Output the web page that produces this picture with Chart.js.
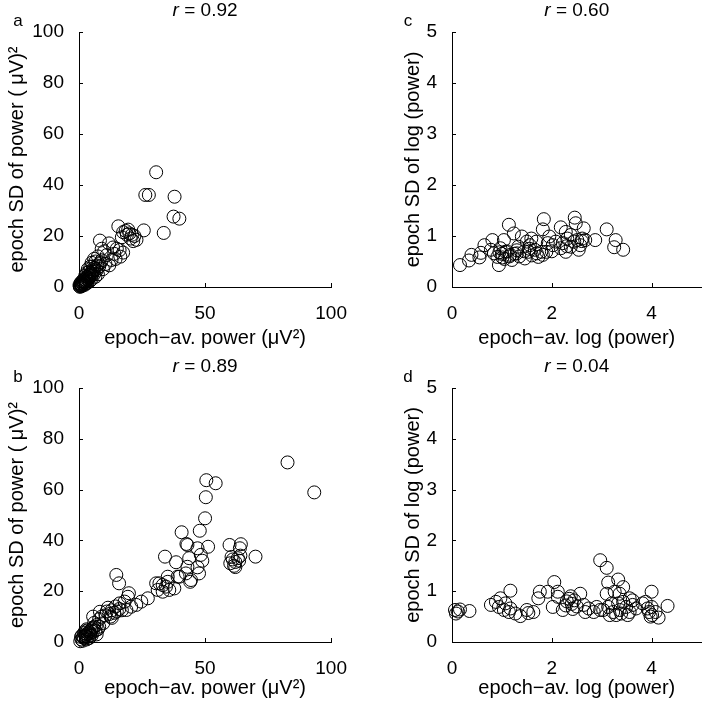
<!DOCTYPE html>
<html>
<head>
<meta charset="utf-8">
<title>Power vs SD scatter</title>
<script src="https://cdn.jsdelivr.net/npm/chart.js@4.4.1/dist/chart.umd.min.js"></script>
<style>
  html, body { margin: 0; padding: 0; background: #fff; overflow: hidden; }
  body { width: 709px; height: 704px; position: relative; }
  canvas { position: absolute; }
</style>
</head>
<body>
<canvas id="chart-a" width="354" height="356" style="left:0;top:0"></canvas>
<canvas id="chart-b" width="354" height="348" style="left:0;top:356px"></canvas>
<canvas id="chart-c" width="355" height="356" style="left:354px;top:0"></canvas>
<canvas id="chart-d" width="355" height="348" style="left:354px;top:356px"></canvas>
<script>
// [epoch-av., epoch SD] per panel
const aPoints = [
  [30.6, 45.0], [26.3, 36.1], [27.7, 36.1], [37.9, 35.4], [37.5, 27.6], [39.8, 26.8], [25.7, 22.2], [33.6, 21.2], [15.6, 23.8],
  [17.5, 21.5], [18.5, 22.0], [19.0, 20.5], [20.0, 21.0], [21.0, 20.5], [22.0, 20.0], [20.5, 19.0], [22.8, 18.5], [17.0, 19.5], [19.5, 22.5], [21.5, 18.0],
  [8.3, 18.2], [11.9, 17.1], [16.1, 14.5], [16.4, 11.9], [12.9, 10.6], [14.0, 13.0], [10.0, 14.0], [9.0, 15.0], [11.0, 12.5], [13.5, 15.5],
  [7.5, 12.0], [9.0, 10.5], [10.5, 9.0], [12.0, 8.5], [8.0, 8.0], [6.5, 10.0], [7.0, 6.5], [5.5, 8.0], [6.0, 11.0], [9.5, 7.0],
  [14.5, 11.0], [17.5, 13.5], [15.0, 15.0],
  [0.5, 0.5], [1.0, 1.0], [1.5, 1.2], [2.0, 1.8], [2.5, 2.0], [3.0, 2.5], [1.0, 0.3], [0.3, 0.2], [2.0, 3.0], [3.0, 4.0],
  [3.5, 3.0], [4.0, 3.5], [4.5, 5.0], [5.0, 4.5], [4.0, 6.0], [3.0, 5.5], [5.5, 6.0], [6.0, 5.0], [2.5, 4.5], [1.5, 2.5],
  [0.8, 1.8], [4.2, 2.2], [5.0, 3.0], [6.5, 4.0], [6.0, 7.5], [3.5, 7.0], [4.5, 8.0], [2.2, 0.8], [1.2, 0.6], [3.2, 1.5],
  [7.5, 5.0], [5.0, 9.5], [0.2, 0.8], [0.6, 1.4],
  [0.4, 0.1], [0.7, 0.9], [1.3, 1.6], [1.8, 1.1], [2.3, 2.6], [2.8, 3.3], [3.3, 3.8], [3.8, 4.6], [4.3, 4.1], [4.8, 5.6],
  [5.3, 5.2], [5.8, 6.6], [1.7, 2.0], [2.7, 1.4], [3.6, 2.6], [0.9, 0.5], [6.8, 7.0], [7.8, 9.0], [8.6, 9.6], [7.2, 8.4]
];
const bPoints = [
  [82.7, 70.7], [93.3, 58.9], [50.5, 63.7], [54.2, 62.5], [50.3, 57.0], [50.0, 48.7], [47.9, 43.8], [40.7, 43.2], [42.6, 38.6],
  [51.2, 37.5], [47.0, 36.9], [59.7, 38.2], [64.2, 38.5], [63.8, 36.9], [70.0, 33.6],
  [60.0, 31.0], [61.0, 32.5], [62.0, 31.5], [63.0, 33.0], [61.5, 30.0], [63.5, 32.0], [60.5, 33.5], [64.0, 34.0], [62.0, 29.5],
  [34.1, 33.6], [38.5, 31.4], [43.7, 33.0], [48.3, 34.3], [48.9, 32.0], [47.0, 29.4], [43.0, 29.6], [42.4, 27.0], [44.1, 23.7],
  [39.1, 25.7], [35.2, 25.7], [30.6, 23.1], [33.2, 22.4], [43.0, 38.2],
  [14.8, 26.4], [15.9, 23.1], [19.8, 19.2], [19.4, 17.8],
  [31.9, 23.1], [34.5, 21.8], [33.2, 19.8], [35.8, 20.5], [37.8, 21.1], [31.2, 20.5], [35.2, 23.7],
  [44.4, 24.4], [47.6, 27.0], [39.8, 25.7],
  [27.3, 17.2], [24.7, 15.9], [22.7, 14.6], [20.7, 13.9], [18.8, 12.6],
  [11.0, 12.0], [12.0, 11.0], [13.0, 12.5], [14.0, 11.5], [10.5, 10.5], [12.5, 10.0], [15.0, 12.0], [16.0, 13.0], [13.0, 9.5],
  [11.5, 13.5], [14.5, 14.0], [17.0, 12.5], [9.0, 10.0], [8.0, 9.0],
  [16.1, 15.2], [18.1, 15.9], [5.6, 10.0], [8.3, 11.9], [9.6, 7.4], [7.0, 6.7],
  [1.0, 1.0], [2.0, 1.5], [2.5, 2.5], [3.0, 3.0], [3.5, 2.0], [4.0, 4.0], [4.5, 3.5], [5.0, 5.0], [5.5, 4.0], [6.0, 6.0],
  [3.0, 5.0], [2.0, 3.5], [1.5, 0.5], [4.0, 1.5], [6.5, 4.5], [7.0, 3.0], [5.0, 2.5], [3.0, 1.0], [0.8, 2.0], [6.0, 7.5],
  [8.0, 6.0], [7.5, 5.0],
  [0.5, 0.3], [1.6, 1.9], [2.8, 2.2], [3.6, 3.4], [4.4, 2.6], [4.8, 4.4], [5.6, 5.6], [2.4, 4.2], [3.4, 4.6], [1.2, 2.6]
];
const cPoints = [
  [0.16, 0.43], [0.34, 0.52], [0.39, 0.63], [0.55, 0.58], [0.58, 0.67], [0.65, 0.82], [0.81, 0.92], [0.78, 0.73], [0.84, 0.66],
  [0.91, 0.59], [0.94, 0.43],
  [1.14, 1.22], [1.24, 1.05], [1.04, 0.92], [0.97, 0.76], [1.07, 0.69], [1.17, 0.63], [1.20, 0.53], [1.01, 0.58],
  [1.40, 0.99], [1.33, 0.79], [1.50, 0.89], [1.46, 0.56], [1.30, 0.66],
  [1.59, 0.95], [1.69, 0.89], [1.66, 0.73], [1.79, 0.69], [1.73, 0.59], [1.53, 0.69], [1.56, 0.82],
  [1.84, 1.33], [1.82, 1.13], [1.95, 0.99], [1.92, 0.86], [1.89, 0.69], [2.02, 0.82], [1.82, 0.63],
  [2.18, 1.17], [2.08, 0.89], [2.22, 0.86], [2.31, 0.95], [2.28, 0.69], [2.38, 0.79], [2.18, 0.76], [2.45, 0.89], [2.28, 1.08], [2.38, 1.02],
  [2.46, 1.36], [2.48, 1.25], [2.64, 1.15], [2.61, 0.95], [2.67, 0.92], [2.54, 0.73], [2.57, 0.82], [2.51, 0.92],
  [2.87, 0.92], [3.10, 1.13], [3.28, 0.92], [3.25, 0.78], [3.43, 0.73],
  [1.00, 0.65], [1.10, 0.70], [1.15, 0.60], [1.25, 0.65], [1.35, 0.60], [1.45, 0.70], [1.60, 0.62], [1.70, 0.66], [0.95, 0.68],
  [1.05, 0.55], [1.30, 0.72], [1.55, 0.75], [2.00, 0.70], [2.30, 0.80], [2.60, 0.90]
];
const dPoints = [
  [0.06, 0.63], [0.12, 0.60], [0.16, 0.64], [0.35, 0.61], [0.08, 0.56],
  [0.78, 0.73], [0.88, 0.79], [0.97, 0.86], [1.07, 0.76], [0.94, 0.69], [1.04, 0.63], [1.17, 0.66], [1.14, 0.59], [1.27, 0.56],
  [1.37, 0.51], [1.17, 1.01], [1.50, 0.63], [1.53, 0.57], [1.63, 0.59],
  [1.73, 0.86], [1.76, 0.99], [1.92, 0.99], [2.05, 1.18], [2.02, 0.69], [2.22, 0.63], [2.12, 0.89], [2.12, 0.99],
  [2.30, 0.80], [2.35, 0.85], [2.40, 0.75], [2.45, 0.82], [2.50, 0.70], [2.38, 0.90], [2.28, 0.72], [2.42, 0.65],
  [2.57, 0.95], [2.64, 0.73], [2.74, 0.66], [2.84, 0.59], [2.67, 0.59], [2.90, 0.69], [2.97, 0.63],
  [2.97, 1.61], [3.10, 1.46], [3.13, 1.17], [3.33, 1.23], [3.43, 1.08], [3.36, 0.95], [3.26, 0.99], [3.10, 0.95],
  [3.03, 0.63], [3.13, 0.69], [3.20, 0.76], [3.23, 0.59], [3.36, 0.63], [3.33, 0.76], [3.43, 0.79], [3.49, 0.69], [3.56, 0.59],
  [3.62, 0.73], [3.39, 0.56], [3.29, 0.53], [3.52, 0.53], [3.16, 0.53], [3.69, 0.66], [3.56, 0.86], [3.62, 0.82],
  [3.82, 0.76], [3.92, 0.66], [3.95, 0.59], [4.00, 0.69], [4.01, 0.53], [3.98, 0.50], [4.08, 0.59], [3.88, 0.79], [4.00, 0.99],
  [4.14, 0.48], [4.32, 0.71]
];

const powerXTicks = [0, 50, 100];
const powerYTicks = [0, 20, 40, 60, 80, 100];
const logXTicks = [0, 2, 4];
const logYTicks = [0, 1, 2, 3, 4, 5];

const rValues = { a: "0.92", b: "0.89", c: "0.60", d: "0.04" };

const FONT = "'Liberation Sans', Arial, Helvetica, sans-serif";
Chart.defaults.font.family = FONT;
Chart.defaults.color = "#000";

// r = ... title, panel letter and MATLAB style inward ticks
const panelText = {
  id: "panelText",
  afterDraw(chart, args, opts) {
    const { ctx, chartArea } = chart;
    const xs = chart.scales.x;
    const ys = chart.scales.y;
    ctx.save();
    ctx.strokeStyle = "#000";
    ctx.lineWidth = 1;
    ctx.beginPath();
    xs.ticks.forEach((t) => {
      const px = Math.round(xs.getPixelForValue(t.value)) + 0.5;
      ctx.moveTo(px, chartArea.bottom);
      ctx.lineTo(px, chartArea.bottom - 4);
    });
    ys.ticks.forEach((t) => {
      const py = Math.round(ys.getPixelForValue(t.value)) + 0.5;
      ctx.moveTo(chartArea.left, py);
      ctx.lineTo(chartArea.left + 4, py);
    });
    ctx.stroke();

    ctx.fillStyle = "#000";
    ctx.textBaseline = "middle";
    ctx.textAlign = "left";
    const cx = (chartArea.left + chartArea.right) / 2;
    const ty = chartArea.top - 21;
    ctx.font = "italic 19px " + FONT;
    const rW = ctx.measureText("r").width;
    ctx.font = "19px " + FONT;
    const rest = " = " + opts.r;
    const restW = ctx.measureText(rest).width;
    const x0 = cx - (rW + restW) / 2;
    ctx.font = "italic 19px " + FONT;
    ctx.fillText("r", x0, ty);
    ctx.font = "19px " + FONT;
    ctx.fillText(rest, x0 + rW, ty);

    ctx.font = "17px " + FONT;
    ctx.textAlign = "center";
    ctx.fillText(opts.letter, opts.letterX, chartArea.top - 11);
    ctx.restore();
  },
};

function makePanel(id, cfg) {
  return new Chart(document.getElementById(id), {
    type: "scatter",
    data: {
      datasets: [
        {
          data: cfg.points.map(([x, y]) => ({ x, y })),
          pointRadius: 6.5,
          pointBorderWidth: 1,
          pointBorderColor: "#000",
          pointBackgroundColor: "rgba(0,0,0,0)",
          clip: false,
        },
      ],
    },
    options: {
      responsive: false,
      animation: false,
      events: [],
      layout: { padding: { top: 32, right: cfg.padRight, bottom: 0, left: 0 } },
      plugins: {
        legend: { display: false },
        tooltip: { enabled: false },
        panelText: { r: cfg.r, letter: cfg.letter, letterX: cfg.letterX },
      },
      scales: {
        x: {
          type: "linear",
          min: 0,
          max: cfg.xMax,
          afterBuildTicks: (s) => { s.ticks = cfg.xTicks.map((v) => ({ value: v })); },
          afterFit: (s) => { s.height = cfg.xHeight; },
          grid: { display: false },
          border: { display: true, color: "#000", width: 1 },
          ticks: { padding: 7, font: { size: 19 }, color: "#000" },
          title: {
            display: true,
            text: cfg.xTitle,
            font: { size: 20 },
            color: "#000",
            padding: { top: 0, bottom: cfg.xTitlePad },
          },
        },
        y: {
          type: "linear",
          min: 0,
          max: cfg.yMax,
          afterBuildTicks: (s) => { s.ticks = cfg.yTicks.map((v) => ({ value: v })); },
          afterFit: (s) => { s.width = cfg.yWidth; },
          grid: { display: false },
          border: { display: true, color: "#000", width: 1 },
          ticks: { padding: 7, font: { size: 19 }, color: "#000" },
          title: {
            display: true,
            text: cfg.yTitle,
            font: { size: 20 },
            color: "#000",
            padding: { top: cfg.yTitlePad, bottom: 0 },
          },
        },
      },
    },
    plugins: [panelText],
  });
}

const powerPanel = {
  xMax: 100, yMax: 100, xTicks: powerXTicks, yTicks: powerYTicks,
  xTitle: "epoch\u2212av. power (\u03bcV\u00b2)", yTitle: "epoch SD of power ( \u03bcV)\u00b2",
  padRight: 21, yWidth: 79, yTitlePad: 5, letterX: 18,
};
const logPanel = {
  xMax: 5, yMax: 5, xTicks: logXTicks, yTicks: logYTicks,
  xTitle: "epoch\u2212av. log (power)", yTitle: "epoch SD of log (power)",
  padRight: 2, yWidth: 98, yTitlePad: 47, letterX: 54,
};

makePanel("chart-a", { ...powerPanel, points: aPoints, r: rValues.a, letter: "a", xHeight: 69, xTitlePad: 6 });
makePanel("chart-b", { ...powerPanel, points: bPoints, r: rValues.b, letter: "b", xHeight: 62, xTitlePad: 4 });
makePanel("chart-c", { ...logPanel, points: cPoints, r: rValues.c, letter: "c", xHeight: 69, xTitlePad: 6 });
makePanel("chart-d", { ...logPanel, points: dPoints, r: rValues.d, letter: "d", xHeight: 62, xTitlePad: 4 });
</script>
</body>
</html>
